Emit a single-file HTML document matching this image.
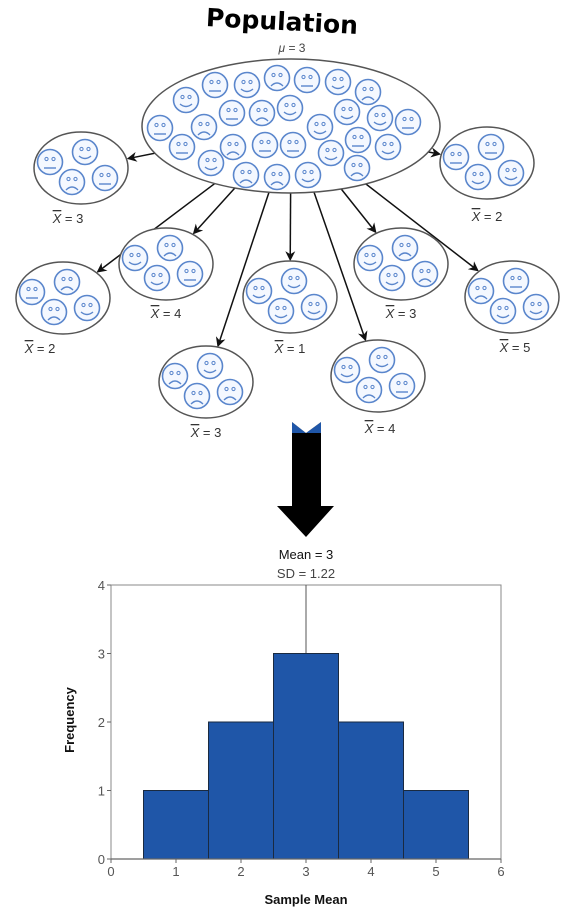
<!DOCTYPE html>
<html><head><meta charset="utf-8"><style>
body{margin:0;background:#fff;}
svg{display:block;font-family:"Liberation Sans",sans-serif;}
</style></head><body>
<svg id="s" width="586" height="913" viewBox="0 0 586 913">
<defs><marker id="ah" markerWidth="10" markerHeight="10" refX="8" refY="5" orient="auto" markerUnits="userSpaceOnUse"><path d="M0,0 L10,5 L0,10 L3,5 Z" fill="#111"/></marker></defs>
<text x="282" y="30" font-size="25" font-weight="bold" text-anchor="middle" fill="#000" transform="rotate(3 282 22)" style="font-family:'DejaVu Sans',sans-serif">Population</text>
<text x="292" y="52" font-size="12" text-anchor="middle" fill="#444"><tspan font-style="italic">μ</tspan> = 3</text>
<g id="arrows"></g>
<ellipse cx="291" cy="126" rx="149" ry="67" fill="#fff" stroke="#555" stroke-width="1.5"/>
<g id="faces"></g>
<g id="samples"></g>
<g>
<rect x="292" y="422" width="29" height="86" fill="#000"/>
<path d="M292,422 L306,433 L321,422 L321,433 L292,433 Z" fill="#1f56a8"/>
<path d="M306,433 L292,422 L321,422 Z" fill="#fff"/>
<path d="M277,506 L334,506 L306,537 Z" fill="#000"/>
</g>
<text x="306" y="559" font-size="13" text-anchor="middle" fill="#111">Mean = 3</text>
<text x="306" y="578" font-size="13" text-anchor="middle" fill="#444">SD = 1.22</text>
<g id="chart"></g>
</svg>
<script>
const NS='http://www.w3.org/2000/svg';
function mk(t,a,p){const e=document.createElementNS(NS,t);for(const k in a)e.setAttribute(k,a[k]);p.appendChild(e);return e;}
function face(g,x,y,type,r){
  const f=mk('g',{},g);
  
  
  mk('circle',{cx:x,cy:y,r:r,fill:'#f4f8ff',stroke:'#5a86cc','stroke-width':1.6},f);
  mk('circle',{cx:x-3.5,cy:y-3,r:1.6,fill:'none',stroke:'#5a86cc','stroke-width':1},f);
  mk('circle',{cx:x+3.5,cy:y-3,r:1.6,fill:'none',stroke:'#5a86cc','stroke-width':1},f);
  let d;
  if(type==='h')d=`M${x-6},${y+4} Q${x},${y+9} ${x+6},${y+4}`;
  else if(type==='s')d=`M${x-6},${y+8} Q${x},${y+2} ${x+6},${y+8}`;
  else d=`M${x-6},${y+6} L${x+6},${y+6}`;
  mk('path',{d:d,fill:'none',stroke:'#5a86cc','stroke-width':1.4},f);
}
const popFaces=[[215,85,'n'],[247,85,'h'],[277,78,'s'],[307,80,'n'],[338,82,'h'],[368,92,'s'],[186,100,'h'],[232,113,'n'],[262,113,'s'],[290,108,'h'],[320,127,'h'],[347,112,'h'],[380,118,'h'],[408,122,'n'],[160,128,'n'],[204,127,'s'],[182,147,'n'],[233,147,'s'],[265,145,'n'],[293,145,'n'],[331,153,'h'],[358,140,'n'],[388,147,'h'],[211,163,'h'],[246,175,'s'],[277,177,'s'],[308,175,'h'],[357,168,'s']];
const fg=document.getElementById('faces');
popFaces.forEach(p=>face(fg,p[0],p[1],p[2],12.5));
const samples=[[81,168,'3',['n','h','s','n']],[487,163,'2',['n','n','h','h']],[63,298,'2',['n','s','s','h']],[166,264,'4',['h','s','h','n']],[290,297,'1',['h','h','h','h']],[401,264,'3',['h','s','h','s']],[512,297,'5',['s','n','h','h']],[206,382,'3',['s','h','s','s']],[378,376,'4',['h','h','s','n']]];
const lab=[[68,223],[487,221],[40,353],[166,318],[290,353],[401,318],[515,352],[206,437],[380,433]];
const offs=[[-31,-6],[4,-16],[-9,14],[24,10]];
const ag=document.getElementById('arrows'), sg=document.getElementById('samples');
samples.forEach((s,i)=>{
  const [cx,cy]=s;
  const dx=cx-291, dy=cy-126;
  let t=1/Math.sqrt((dx*dx)/(149*149)+(dy*dy)/(67*67));
  const sx=291+dx*t*0.9, sy=126+dy*t*0.9;
  let t2=1/Math.sqrt((dx*dx)/(47*47)+(dy*dy)/(36*36));
  const ex=cx-dx*t2*1.05, ey=cy-dy*t2*1.05;
  const a=mk('line',{x1:sx,y1:sy,x2:ex,y2:ey,stroke:'#111','stroke-width':1.5,'marker-end':'url(#ah)'},ag);
  
  
  const g=mk('g',{},sg);
  
  
  mk('ellipse',{cx:cx,cy:cy,rx:47,ry:36,fill:'#fff',stroke:'#555','stroke-width':1.5},g);
  offs.forEach((o,j)=>face(g,cx+o[0],cy+o[1],s[3][j],12.5));
  const tx=mk('text',{x:lab[i][0],y:lab[i][1],'font-size':13,'text-anchor':'middle',fill:'#333'},g);
  
  
  tx.innerHTML='<tspan font-style="italic" text-decoration="overline">X</tspan> = '+s[2];
});
</script>
<script>
const binCenters=[1,2,3,4,5];
const freqs=[1,2,3,2,1];
const xTicks=[0,1,2,3,4,5,6];
const yTicks=[0,1,2,3,4];
const meanVal=3;
(function(){
const cg=document.getElementById('chart');
const X0=111,X1=501,Y0=859,Y1=585;
const xs=v=>X0+(v-0)/(6-0)*(X1-X0);
const ys=v=>Y0-(v-0)/(4-0)*(Y0-Y1);
const fr=mk('rect',{x:X0,y:Y1,width:X1-X0,height:Y0-Y1,fill:'#fff',stroke:'#888','stroke-width':1},cg);


const ml=mk('line',{x1:xs(meanVal),x2:xs(meanVal),y1:Y1,y2:ys(3),stroke:'#555','stroke-width':1},cg);


binCenters.forEach((c,i)=>{
  const b=mk('rect',{x:xs(c-0.5),y:ys(freqs[i]),width:xs(c+0.5)-xs(c-0.5),height:Y0-ys(freqs[i]),fill:'#1f56a8',stroke:'#1a2a40','stroke-width':1},cg);
  
  
});
mk('line',{x1:X0,x2:X1,y1:Y0,y2:Y0,stroke:'#666','stroke-width':1.2},cg);
xTicks.forEach(v=>{
  mk('line',{x1:xs(v),x2:xs(v),y1:Y0,y2:Y0+4,stroke:'#666'},cg);
  const t=mk('text',{x:xs(v),y:Y0+17,'font-size':13,'text-anchor':'middle',fill:'#555'},cg);
  
  
  t.textContent=v;
});
yTicks.forEach(v=>{
  mk('line',{x1:X0-4,x2:X0,y1:ys(v),y2:ys(v),stroke:'#666'},cg);
  const t=mk('text',{x:X0-6,y:ys(v)+5,'font-size':13,'text-anchor':'end',fill:'#555'},cg);
  
  
  t.textContent=v;
});
const xt=mk('text',{x:306,y:904,'font-size':13,'font-weight':'bold','text-anchor':'middle',fill:'#111'},cg);


xt.textContent='Sample Mean';
const yt=mk('text',{x:78,y:720,'font-size':13,'font-weight':'bold','text-anchor':'middle',fill:'#111',transform:'rotate(-90 78 720)'},cg);


yt.setAttribute('x','74');
yt.setAttribute('transform','rotate(-90 74 720)');
yt.textContent='Frequency';
})();
</script>
</body></html>
